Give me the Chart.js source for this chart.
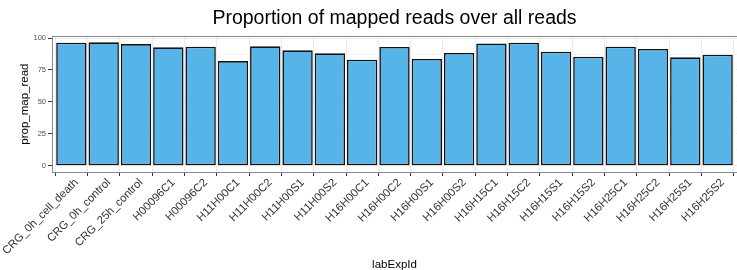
<!DOCTYPE html>
<html><head><meta charset="utf-8">
<script src="https://cdn.jsdelivr.net/npm/chart.js@4/dist/chart.umd.min.js"></script>
<style>html,body{margin:0;padding:0;background:#fff}#wrap{width:737px;height:270px}</style>
</head><body><div id="wrap"><canvas id="c" width="737" height="270"></canvas></div>
<script>
const categories = ["CRG_0h_cell_death","CRG_0h_control","CRG_25h_control","H00096C1","H00096C2","H11H00C1","H11H00C2","H11H00S1","H11H00S2","H16H00C1","H16H00C2","H16H00S1","H16H00S2","H16H15C1","H16H15C2","H16H15S1","H16H15S2","H16H25C1","H16H25C2","H16H25S1","H16H25S2"];
const propMapRead = [96.3,96.6,95.3,92.7,93.2,82.0,93.5,90.4,88.0,83.0,93.0,83.6,88.3,95.7,96.3,89.3,85.4,93.2,91.4,84.9,86.9];
const yTicks = [0,25,50,75,100];
const yMinorTicks = [12.5,37.5,62.5,87.5];

const FONT = "'Liberation Sans', Arial, Helvetica, sans-serif";
const dataMax = Math.max(...propMapRead);
const yMin = -0.05 * dataMax;
const yMax = dataMax * 1.05;

const panelBorder = {
  id: 'panelBorder',
  afterDraw(chart) {
    const {ctx, chartArea: a} = chart;
    ctx.save();
    ctx.strokeStyle = '#8a8a8a';
    ctx.lineWidth = 1;
    ctx.strokeRect(Math.round(a.left) + 0.5, Math.round(a.top) + 0.5, a.right - a.left, Math.round(a.bottom) - Math.round(a.top));
    ctx.restore();
  }
};

new Chart(document.getElementById('c'), {
  type: 'bar',
  data: {
    datasets: [{
      data: categories.map((c, i) => ({x: i + 1, y: propMapRead[i]})),
      backgroundColor: '#56B4E9',
      borderColor: '#111',
      borderWidth: 1.6,
      borderSkipped: false,
      barPercentage: 0.94,
      categoryPercentage: 1
    }]
  },
  options: {
    responsive: false,
    animation: false,
    devicePixelRatio: 1,
    layout: {padding: {left: 0, right: -3.5, top: 0, bottom: 0}},
    plugins: {
      legend: {display: false},
      tooltip: {enabled: false},
      title: {
        display: true,
        fullSize: false,
        text: 'Proportion of mapped reads over all reads',
        color: '#000',
        font: {family: FONT, size: 19.5, weight: 'normal'},
        padding: {top: 7, bottom: 5.8}
      }
    },
    scales: {
      x: {
        type: 'linear',
        min: 0.4,
        max: categories.length + 0.6,
        offset: false,
        afterBuildTicks: s => { s.ticks = categories.map((c, i) => ({value: i + 1})); },
        afterFit: s => { s.height = 98; s.paddingLeft = 0; s.paddingRight = 0; },
        grid: {color: '#EBEBEB', lineWidth: 1, tickColor: '#333', tickLength: 4, drawTicks: true},
        border: {display: false},
        ticks: {
          autoSkip: false, maxRotation: 45, minRotation: 45, padding: 0, labelOffset: 5,
          color: '#333', font: {family: FONT, size: 11.3},
          callback: v => categories[Math.round(v) - 1]
        },
        title: {display: true, text: 'labExpId', color: '#000', font: {family: FONT, size: 11.5}, padding: {top: 0, bottom: -1.5}}
      },
      y: {
        min: yMin,
        max: yMax,
        afterBuildTicks: s => { s.ticks = yTicks.map(v => ({value: v})); },
        afterFit: s => { s.width = 52; s.paddingTop = 0; s.paddingBottom = 0; },
        grid: {color: '#EBEBEB', lineWidth: 1, tickColor: '#333', tickLength: 4, drawTicks: true},
        border: {display: false},
        ticks: {padding: 2, color: '#4d4d4d', font: {family: FONT, size: 7.5}},
        title: {display: true, text: 'prop_map_read', color: '#000', font: {family: FONT, size: 11.5}, padding: {top: 18, bottom: 0}}
      },
      yMinor: {
        position: 'left',
        min: yMin,
        max: yMax,
        afterBuildTicks: s => { s.ticks = yMinorTicks.map(v => ({value: v})); },
        afterFit: s => { s.width = 0; s.paddingTop = 0; s.paddingBottom = 0; },
        grid: {color: '#F4F4F4', lineWidth: 1, drawTicks: false},
        border: {display: false},
        ticks: {display: false}
      }
    }
  },
  plugins: [panelBorder]
});
</script>
</body></html>
